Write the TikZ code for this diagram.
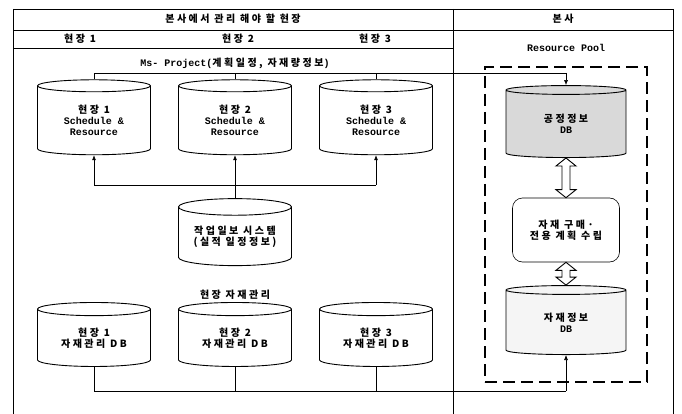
\documentclass[tikz,border=0pt]{standalone}
\usepackage{fontspec}
\setmainfont{Liberation Mono}
\newfontfamily\kr{Noto Sans CJK KR}[LetterSpace=25]
\usetikzlibrary{shapes.geometric,arrows.meta,positioning,calc}

\begin{document}
\begin{tikzpicture}[x=1pt,y=-1pt,
    frame/.style={line width=0.6pt},
    lbl/.style={font=\bfseries\fontsize{10}{11}\selectfont},
    db/.style={cylinder, shape border rotate=90, draw, line width=0.9pt,
        aspect=0.2, minimum width=113pt, minimum height=75pt, inner sep=0pt,
        align=center, font=\bfseries\fontsize{10}{11}\selectfont},
    link/.style={line width=0.6pt},
    tip/.style={link, -{Latex[length=5pt,width=4pt]}},
    pool/.style={draw, line width=1.6pt, dash pattern=on 12pt off 6pt},
    hollow/.style={draw, fill=white, line width=0.9pt, line join=miter}]

    \useasboundingbox (0,0) rectangle (682,414);

    % 表格框线
    \draw[frame] (13,9) -- (673,9);
    \draw[frame] (13,30) -- (673,30);
    \draw[frame] (13,48) -- (453,48);
    \draw[frame] (13,9) -- (13,414);
    \draw[frame] (453,9) -- (453,414);
    \draw[frame] (673,9) -- (673,414);

    % 表头
    \node[lbl] (site) at (233,19) {\kr 본사에서 관리 해야 할 현장};
    \node[lbl] (hq) at (563,19) {\kr 본사};
    \node[lbl] (col1) at (80,39) {\kr 현장 1};
    \node[lbl] (col2) at (238,39) {\kr 현장 2};
    \node[lbl] (col3) at (375,39) {\kr 현장 3};
    \node[lbl] (rp) at (566,48) {Resource Pool};
    \node[lbl] (ms) at (235,63) {Ms- Project({\kr 계획일정, 자재량정보})};

    % 现场数据库
    \node[db] (s1) at (94,120.5) {{\kr 현장 1}\\Schedule \&\\Resource};
    \node[db] (s2) at (235,120.5) {{\kr 현장 2}\\Schedule \&\\Resource};
    \node[db] (s3) at (376,120.5) {{\kr 현장 3}\\Schedule \&\\Resource};
    \node[db, minimum height=67pt] (daily) at (235,236.5) {\kr 작업일보 시스템\\\kr (실적 일정정보)};
    \node[lbl] (stock) at (235,295) {\kr 현장 자재관리};
    \node[db, minimum height=64pt] (m1) at (94,338) {\kr 현장 1\\\kr 자재관리 DB};
    \node[db, minimum height=64pt] (m2) at (235,338) {\kr 현장 2\\\kr 자재관리 DB};
    \node[db, minimum height=64pt] (m3) at (376,338) {\kr 현장 3\\\kr 자재관리 DB};

    % Resource Pool
    \node[pool, minimum width=162pt, minimum height=315pt] (pool) at (566,224.5) {};
    \node[db, fill=gray!30, minimum width=120pt, minimum height=72pt] (pdb) at (566,124) {\kr 공정정보\\DB};
    \node[draw, line width=0.6pt, rounded corners=10pt, minimum width=107pt, minimum height=64pt,
        align=center, font=\bfseries\fontsize{10}{11}\selectfont] (plan) at (566,230) {\kr 자재 구매·\\\kr 전용 계획 수립};
    \node[db, fill=gray!8, minimum width=120pt, minimum height=69pt] (mdb) at (566,322.5) {\kr 자재정보\\DB};

    % 连线
    \coordinate (planbus) at (0,73);
    \coordinate (actbus) at (0,185);
    \coordinate (stockbus) at (0,391);
    \draw[link] (s1.north) -- (s1.north |- planbus) -- (pdb.north |- planbus);
    \draw[link] (s2.north) -- (s2.north |- planbus);
    \draw[link] (s3.north) -- (s3.north |- planbus);
    \draw[tip] (pdb.north |- planbus) -- (pdb.north);

    \draw[link] (daily.north) -- (daily.north |- actbus);
    \draw[link] (s1.south |- actbus) -- (s3.south |- actbus);
    \draw[tip] (s1.south |- actbus) -- (s1.south);
    \draw[tip] (s2.south |- actbus) -- (s2.south);
    \draw[tip] (s3.south |- actbus) -- (s3.south);

    \draw[link] (m1.south) -- (m1.south |- stockbus) -- (mdb.south |- stockbus);
    \draw[link] (m2.south) -- (m2.south |- stockbus);
    \draw[link] (m3.south) -- (m3.south |- stockbus);
    \draw[tip] (mdb.south |- stockbus) -- (mdb.south);

    % 双向空心箭头
    \draw[hollow] (pdb.south) -- ++(10,8) -- ++(-6,0) -- ($(plan.north)+(4,-8)$) -- ++(6,0)
        -- (plan.north) -- ++(-10,-8) -- ++(6,0) -- ($(pdb.south)+(-4,8)$) -- ++(-6,0) -- cycle;
    \draw[hollow] (plan.south) -- ++(10,8) -- ++(-6,0) -- ($(mdb.north)+(4,-8)$) -- ++(6,0)
        -- (mdb.north) -- ++(-10,-8) -- ++(6,0) -- ($(plan.south)+(-4,8)$) -- ++(-6,0) -- cycle;

\end{tikzpicture}
\end{document}
